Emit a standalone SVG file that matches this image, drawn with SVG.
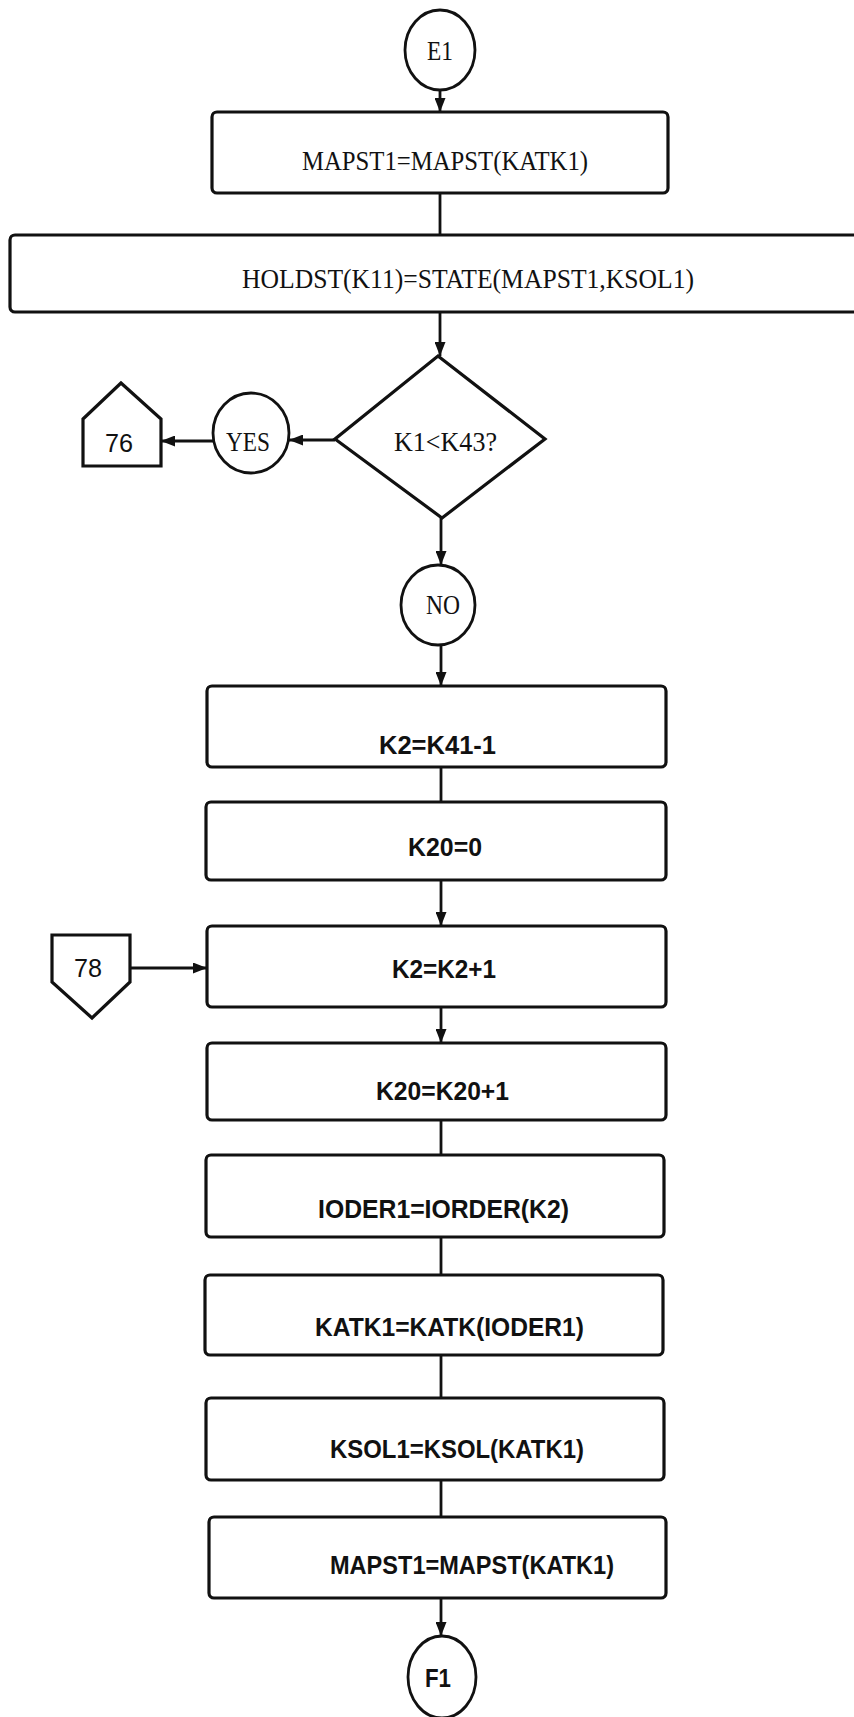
<svg xmlns="http://www.w3.org/2000/svg" width="854" height="1717" viewBox="0 0 854 1717">
<style>
.box{fill:#fff;stroke:#111;stroke-width:3.2}
.term{fill:#fff;stroke:#111;stroke-width:2.8}
.con{fill:none;stroke:#111;stroke-width:2.8}
.t1{font-family:"Liberation Serif",serif;font-size:27px;fill:#111}
.t2{font-family:"Liberation Sans",sans-serif;font-size:26px;font-weight:bold;fill:#111}
.t3{font-family:"Liberation Sans",sans-serif;font-size:25px;fill:#111}
</style>
<defs>
<marker id="ah" viewBox="0 0 10 10" refX="10" refY="5" markerWidth="14" markerHeight="11" markerUnits="userSpaceOnUse" orient="auto" preserveAspectRatio="none">
<path d="M0,0 L10,5 L0,10 z" fill="#111"/>
</marker>
</defs>
<rect width="854" height="1717" fill="#fff"/>
<g id="connectors">
<line class="con" x1="440" y1="90" x2="440" y2="112" marker-end="url(#ah)"/>
<line class="con" x1="440" y1="193" x2="440" y2="235"/>
<line class="con" x1="440" y1="312" x2="440" y2="356" marker-end="url(#ah)"/>
<line class="con" x1="335" y1="440" x2="289" y2="440" marker-end="url(#ah)"/>
<line class="con" x1="213" y1="441" x2="161" y2="441" marker-end="url(#ah)"/>
<line class="con" x1="441" y1="518" x2="441" y2="565" marker-end="url(#ah)"/>
<line class="con" x1="441" y1="645" x2="441" y2="686" marker-end="url(#ah)"/>
<line class="con" x1="441" y1="767" x2="441" y2="802"/>
<line class="con" x1="441" y1="880" x2="441" y2="926" marker-end="url(#ah)"/>
<line class="con" x1="130" y1="968" x2="207" y2="968" marker-end="url(#ah)"/>
<line class="con" x1="441" y1="1007" x2="441" y2="1043" marker-end="url(#ah)"/>
<line class="con" x1="441" y1="1120" x2="441" y2="1155"/>
<line class="con" x1="441" y1="1237" x2="441" y2="1275"/>
<line class="con" x1="441" y1="1355" x2="441" y2="1398"/>
<line class="con" x1="441" y1="1480" x2="441" y2="1517"/>
<line class="con" x1="441" y1="1598" x2="441" y2="1636" marker-end="url(#ah)"/>
</g>
<g id="E1">
<ellipse class="term" cx="440" cy="50" rx="35" ry="40"/>
<text class="t1" x="440" y="60" text-anchor="middle" textLength="26" lengthAdjust="spacingAndGlyphs">E1</text>
</g>
<g id="box1">
<rect class="box" x="212" y="112" width="456" height="81" rx="5"/>
<text class="t1" x="302" y="170" textLength="286" lengthAdjust="spacingAndGlyphs">MAPST1=MAPST(KATK1)</text>
</g>
<g id="box2">
<rect class="box" x="10" y="235" width="860" height="77" rx="5"/>
<text class="t1" x="242" y="288" textLength="452" lengthAdjust="spacingAndGlyphs">HOLDST(K11)=STATE(MAPST1,KSOL1)</text>
</g>
<g id="decision">
<polygon class="box" points="438,356 545,439 442,518 335,439"/>
<text class="t1" x="394" y="451" textLength="103" lengthAdjust="spacingAndGlyphs">K1&lt;K43?</text>
</g>
<g id="yes">
<ellipse class="term" cx="251" cy="433" rx="38" ry="40"/>
<text class="t1" x="248" y="451" text-anchor="middle" textLength="44" lengthAdjust="spacingAndGlyphs">YES</text>
</g>
<g id="off76">
<polygon class="box" points="83,419 121,383 161,419 161,466 83,466"/>
<text class="t3" x="119" y="452" text-anchor="middle" textLength="28" lengthAdjust="spacingAndGlyphs">76</text>
</g>
<g id="no">
<ellipse class="term" cx="438" cy="605" rx="37" ry="40"/>
<text class="t1" x="443" y="614" text-anchor="middle" textLength="34" lengthAdjust="spacingAndGlyphs">NO</text>
</g>
<g id="box3">
<rect class="box" x="207" y="686" width="459" height="81" rx="5"/>
<text class="t2" x="379" y="754" textLength="117" lengthAdjust="spacingAndGlyphs">K2=K41-1</text>
</g>
<g id="box4">
<rect class="box" x="206" y="802" width="460" height="78" rx="5"/>
<text class="t2" x="408" y="856" textLength="74" lengthAdjust="spacingAndGlyphs">K20=0</text>
</g>
<g id="off78">
<polygon class="box" points="52,935 130,935 130,982 92,1018 52,982"/>
<text class="t3" x="88" y="977" text-anchor="middle" textLength="28" lengthAdjust="spacingAndGlyphs">78</text>
</g>
<g id="box5">
<rect class="box" x="207" y="926" width="459" height="81" rx="5"/>
<text class="t2" x="392" y="978" textLength="104" lengthAdjust="spacingAndGlyphs">K2=K2+1</text>
</g>
<g id="box6">
<rect class="box" x="207" y="1043" width="459" height="77" rx="5"/>
<text class="t2" x="376" y="1100" textLength="133" lengthAdjust="spacingAndGlyphs">K20=K20+1</text>
</g>
<g id="box7">
<rect class="box" x="206" y="1155" width="458" height="82" rx="5"/>
<text class="t2" x="318" y="1218" textLength="251" lengthAdjust="spacingAndGlyphs">IODER1=IORDER(K2)</text>
</g>
<g id="box8">
<rect class="box" x="205" y="1275" width="458" height="80" rx="5"/>
<text class="t2" x="315" y="1336" textLength="269" lengthAdjust="spacingAndGlyphs">KATK1=KATK(IODER1)</text>
</g>
<g id="box9">
<rect class="box" x="206" y="1398" width="458" height="82" rx="5"/>
<text class="t2" x="330" y="1458" textLength="254" lengthAdjust="spacingAndGlyphs">KSOL1=KSOL(KATK1)</text>
</g>
<g id="box10">
<rect class="box" x="209" y="1517" width="457" height="81" rx="5"/>
<text class="t2" x="330" y="1574" textLength="284" lengthAdjust="spacingAndGlyphs">MAPST1=MAPST(KATK1)</text>
</g>
<g id="F1">
<ellipse class="term" cx="442" cy="1677" rx="34" ry="41"/>
<text class="t2" x="438" y="1687" text-anchor="middle" textLength="26" lengthAdjust="spacingAndGlyphs">F1</text>
</g>
</svg>
